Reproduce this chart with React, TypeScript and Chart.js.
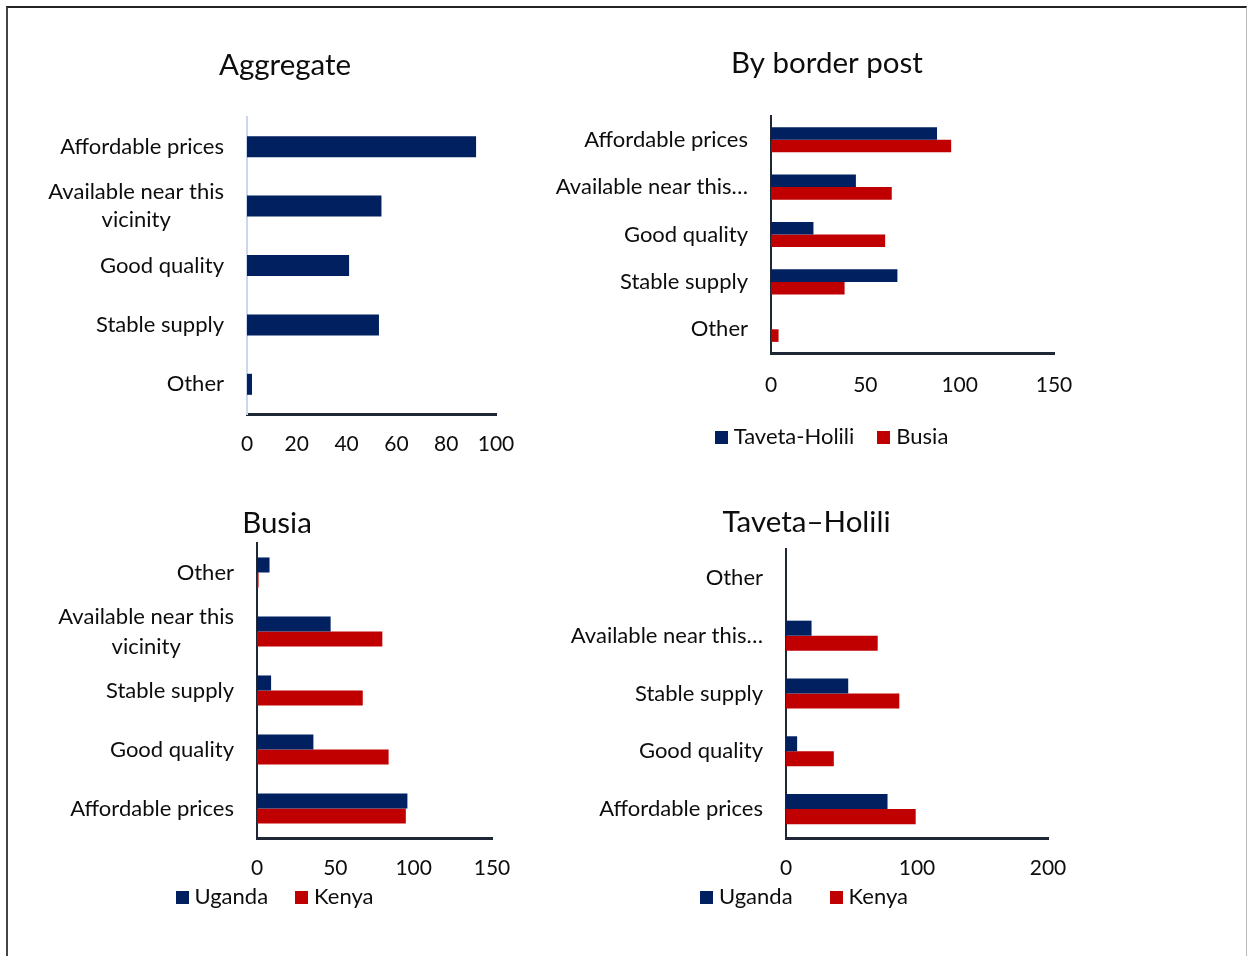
import React, { useEffect, useRef } from "react";
import { Chart, registerables } from "chart.js";

Chart.register(...registerables);

const NAVY = "#002060";
const RED = "#C00000";
const FONT = "Lato, 'Open Sans', sans-serif";
const TEXT = "#0d0d0d";
const CAT_SIZE = 22;
const TICK_SIZE = 21;
const LEGEND_SIZE = 22;
const TITLE_SIZE = 29.5;

// ---------- Data ----------
const aggCategories = ["Affordable prices", "Available near this\nvicinity", "Good quality", "Stable supply", "Other"];
const aggValues = [92, 54, 41, 53, 2];

const postCategories = ["Affordable prices", "Available near this…", "Good quality", "Stable supply", "Other"];
const postTaveta = [88, 45, 22.5, 67, 0];
const postBusia = [95.5, 64, 60.5, 39, 4];

const busiaCategories = ["Other", "Available near this\nvicinity", "Stable supply", "Good quality", "Affordable prices"];
const busiaUganda = [8, 47, 9, 36, 96];
const busiaKenya = [1, 80, 67.5, 84, 95];

const tavetaCategories = ["Other", "Available near this…", "Stable supply", "Good quality", "Affordable prices"];
const tavetaUganda = [0, 19.5, 47.5, 8.5, 77.5];
const tavetaKenya = [0, 70, 86.5, 36.5, 99];

type SeriesDef = { label: string; data: number[]; color: string };
type PanelDef = {
  left: number;
  top: number;
  width: number;
  height: number;
  plot: { x0: number; x1: number; y0: number; y1: number };
  title: string;
  titleX: number;
  titleY: number;
  tickY: number;
  legend?: { x: number; y: number; spacing: number };
  categories: string[];
  series: SeriesDef[];
  max: number;
  step: number;
  groupPct: number;
  yAxisColor: string;
  lineHeight: number;
};

const panels: PanelDef[] = [
  {
    left: 8, top: 0, width: 554, height: 480,
    plot: { x0: 247, x1: 496, y0: 117, y1: 414 },
    title: "Aggregate", titleX: 285, titleY: 65, tickY: 444,
    categories: aggCategories,
    series: [{ label: "Aggregate", data: aggValues, color: NAVY }],
    max: 100, step: 20, groupPct: 0.354, yAxisColor: "#c9d7ef", lineHeight: 28,
  },
  {
    left: 540, top: 0, width: 560, height: 470,
    plot: { x0: 771, x1: 1054, y0: 116, y1: 353 },
    title: "By border post", titleX: 827, titleY: 63, tickY: 385,
    legend: { x: 831.5, y: 437, spacing: 23 },
    categories: postCategories,
    series: [
      { label: "Taveta-Holili", data: postTaveta, color: NAVY },
      { label: "Busia", data: postBusia, color: RED },
    ],
    max: 150, step: 50, groupPct: 0.53, yAxisColor: "#1f2636", lineHeight: 28,
  },
  {
    left: 8, top: 470, width: 536, height: 486,
    plot: { x0: 257, x1: 492, y0: 543, y1: 838 },
    title: "Busia", titleX: 277, titleY: 523, tickY: 868,
    legend: { x: 274.5, y: 897, spacing: 27 },
    categories: busiaCategories,
    series: [
      { label: "Uganda", data: busiaUganda, color: NAVY },
      { label: "Kenya", data: busiaKenya, color: RED },
    ],
    max: 150, step: 50, groupPct: 0.51, yAxisColor: "#1f2636", lineHeight: 30,
  },
  {
    left: 542, top: 470, width: 556, height: 486,
    plot: { x0: 786, x1: 1048, y0: 549, y1: 838 },
    title: "Taveta–Holili", titleX: 806.5, titleY: 522, tickY: 868,
    legend: { x: 804, y: 897, spacing: 37 },
    categories: tavetaCategories,
    series: [
      { label: "Uganda", data: tavetaUganda, color: NAVY },
      { label: "Kenya", data: tavetaKenya, color: RED },
    ],
    max: 200, step: 100, groupPct: 0.52, yAxisColor: "#1f2636", lineHeight: 28,
  },
];

// Draws the category labels (right-aligned block, lines centred), the title and the legend.
const overlayPlugin = {
  id: "overlay",
  afterDraw(chart: any, _args: any, opts: any) {
    const { ctx, chartArea } = chart;
    const yScale = chart.scales.y;
    ctx.save();
    ctx.fillStyle = TEXT;
    ctx.textBaseline = "middle";

    // category labels
    ctx.font = `${CAT_SIZE}px ${FONT}`;
    ctx.textAlign = "center";
    (chart.data.labels as string[]).forEach((lab, i) => {
      const lines = String(lab).split("\n");
      const w = Math.max(...lines.map((l) => ctx.measureText(l).width));
      const cx = chartArea.left - opts.gap - w / 2;
      const cy = yScale.getPixelForValue(i);
      lines.forEach((l, k) => {
        ctx.fillText(l, cx, cy + (k - (lines.length - 1) / 2) * opts.lineHeight);
      });
    });

    // title
    ctx.font = `${TITLE_SIZE}px ${FONT}`;
    ctx.textAlign = "center";
    ctx.fillText(opts.title, opts.titleX, opts.titleY);

    // legend
    if (opts.legend) {
      const box = 13;
      const gap = 6;
      ctx.font = `${LEGEND_SIZE}px ${FONT}`;
      ctx.textAlign = "left";
      const items = chart.data.datasets.map((ds: any) => ({
        text: ds.label as string,
        color: ds.backgroundColor as string,
        w: ctx.measureText(ds.label).width as number,
      }));
      const total =
        items.reduce((s: number, it: any) => s + box + gap + it.w, 0) +
        opts.legend.spacing * (items.length - 1);
      let x = opts.legend.x - total / 2;
      const ly = opts.legend.y;
      items.forEach((it: any) => {
        ctx.fillStyle = it.color;
        ctx.fillRect(Math.round(x), Math.round(ly - box / 2), box, box);
        ctx.fillStyle = TEXT;
        ctx.fillText(it.text, x + box + gap, ly);
        x += box + gap + it.w + opts.legend.spacing;
      });
    }
    ctx.restore();
  },
};

function Panel({ def }: { def: PanelDef }) {
  const ref = useRef<HTMLCanvasElement>(null);

  useEffect(() => {
    if (!ref.current) return;
    const yAxisWidth = def.plot.x0 - def.left;
    const xAxisHeight = def.height - (def.plot.y1 - def.top);
    const tickPad = def.tickY - def.plot.y1 - TICK_SIZE * 0.6;

    const chart = new Chart(ref.current, {
      type: "bar",
      data: {
        labels: def.categories,
        datasets: def.series.map((s) => ({
          label: s.label,
          data: s.data,
          backgroundColor: s.color,
          borderWidth: 0,
          categoryPercentage: def.groupPct,
          barPercentage: 1,
        })),
      },
      options: {
        indexAxis: "y",
        animation: false,
        responsive: false,
        maintainAspectRatio: false,
        layout: {
          padding: {
            top: def.plot.y0 - def.top,
            left: 0,
            bottom: 0,
            right: def.left + def.width - def.plot.x1,
          },
        },
        scales: {
          x: {
            min: 0,
            max: def.max,
            grid: { display: false, drawTicks: false },
            border: { display: true, color: "#1f2636", width: 3 },
            ticks: {
              stepSize: def.step,
              color: TEXT,
              padding: tickPad,
              font: { family: FONT, size: TICK_SIZE },
            },
            afterFit: (scale: any) => {
              scale.height = xAxisHeight;
            },
          },
          y: {
            z: 1,
            grid: { display: false, drawTicks: false },
            border: { display: true, color: def.yAxisColor, width: 2 },
            ticks: { display: false },
            afterFit: (scale: any) => {
              scale.width = yAxisWidth;
            },
          },
        },
        plugins: {
          title: { display: false },
          legend: { display: false },
          tooltip: { enabled: false },
          overlay: {
            gap: 23,
            lineHeight: def.lineHeight,
            title: def.title,
            titleX: def.titleX - def.left,
            titleY: def.titleY - def.top,
            legend: def.legend
              ? { x: def.legend.x - def.left, y: def.legend.y - def.top, spacing: def.legend.spacing }
              : null,
          },
        } as any,
      },
      plugins: [overlayPlugin],
    });
    return () => chart.destroy();
  }, []);

  return (
    <canvas
      ref={ref}
      width={def.width}
      height={def.height}
      style={{ position: "absolute", left: def.left, top: def.top, width: def.width, height: def.height }}
    />
  );
}

export default function App() {
  return (
    <div
      style={{
        position: "absolute",
        left: 0,
        top: 0,
        width: 1247,
        height: 956,
        overflow: "hidden",
        background: "#ffffff",
      }}
    >
      <div
        style={{
          position: "absolute",
          left: 6,
          top: 6,
          width: 1238,
          height: 1000,
          borderTop: "2px solid #222",
          borderLeft: "2px solid #444",
          borderRight: "1px solid #bbb",
        }}
      />
      {panels.map((p, i) => (
        <Panel key={i} def={p} />
      ))}
    </div>
  );
}
